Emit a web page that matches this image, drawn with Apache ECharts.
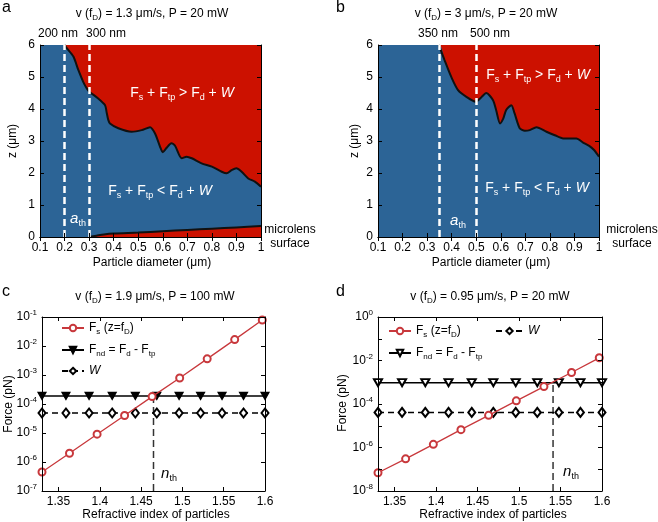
<!DOCTYPE html>
<html><head><meta charset="utf-8">
<script src="https://cdn.jsdelivr.net/npm/echarts@6/dist/echarts.min.js"></script>
<style>html,body{margin:0;padding:0;background:#fff}#c{width:658px;height:522px}</style>
</head><body><div id="c"></div>
<script>
// ---------- data ----------
// panel a : boundary F_s + F_tp = F_d + W (upper) and near-surface boundary (lower)
const diamA   = [0.1, 0.2, 0.209, 0.236, 0.256, 0.276, 0.29, 0.3, 0.337, 0.365, 0.371, 0.378, 0.385, 0.419, 0.473, 0.514, 0.548, 0.568, 0.589, 0.6, 0.615, 0.635, 0.65, 0.677, 0.697, 0.718, 0.758, 0.8, 0.84, 0.86, 0.88, 0.9, 0.921, 0.948, 0.975, 1.0];
const zUpperA = [6, 6, 5.9, 5.64, 5.22, 4.85, 4.65, 4.55, 4.33, 4.12, 3.91, 3.66, 3.55, 3.4, 3.29, 3.34, 3.43, 3.24, 2.82, 2.65, 2.78, 2.93, 2.85, 2.46, 2.51, 2.46, 2.3, 2.2, 2.04, 1.99, 2.09, 2.15, 2.04, 1.83, 1.73, 1.57];
const diamLowA = [0.3, 0.33, 0.36, 0.4, 0.5, 0.6, 0.7, 0.8, 0.9, 1.0];
const zLowerA  = [0, 0.04, 0.08, 0.11, 0.14, 0.18, 0.22, 0.26, 0.3, 0.34];
const thresholdsA = [0.2, 0.3];
// panel b
const diamB   = [0.1, 0.348, 0.371, 0.398, 0.426, 0.46, 0.497, 0.52, 0.541, 0.568, 0.581, 0.597, 0.61, 0.622, 0.643, 0.656, 0.677, 0.698, 0.718, 0.745, 0.786, 0.82, 0.854, 0.908, 0.935, 0.96, 0.98, 1.0];
const zUpperB = [6, 6, 5.53, 5.01, 4.59, 4.38, 4.23, 4.36, 4.5, 4.28, 3.97, 3.55, 3.7, 3.97, 4.12, 3.87, 3.4, 3.32, 3.34, 3.43, 3.29, 3.18, 3.08, 3.08, 2.95, 2.85, 2.72, 2.51];
const thresholdsB = [0.35, 0.5];
// panels c, d
const nFs   = [1.33, 1.3633, 1.3967, 1.43, 1.4633, 1.4967, 1.53, 1.5633, 1.5967];
const nFlat = [1.33, 1.359, 1.387, 1.415, 1.443, 1.469, 1.496, 1.522, 1.548, 1.574, 1.6];
const fsC  = [4.5e-7, 2.0e-6, 9.1e-6, 4.0e-5, 1.8e-4, 7.9e-4, 3.6e-3, 1.66e-2, 7.9e-2];
const fndC = [1.9e-4, 1.9e-4, 1.9e-4, 1.9e-4, 1.9e-4, 1.9e-4, 1.9e-4, 1.9e-4, 1.9e-4, 1.9e-4, 1.9e-4];
const wC   = [4.9e-5, 4.9e-5, 4.9e-5, 4.9e-5, 4.9e-5, 4.9e-5, 4.9e-5, 4.9e-5, 4.9e-5, 4.9e-5, 4.9e-5];
const nthC = 1.465;
const fsD  = [6.9e-8, 3.0e-7, 1.4e-6, 6.6e-6, 3.0e-5, 1.4e-4, 6.3e-4, 2.8e-3, 1.33e-2];
const fndD = [9.6e-4, 9.6e-4, 9.6e-4, 9.6e-4, 9.6e-4, 9.6e-4, 9.6e-4, 9.6e-4, 9.6e-4, 9.6e-4, 9.6e-4];
const wD   = [4.1e-5, 4.1e-5, 4.1e-5, 4.1e-5, 4.1e-5, 4.1e-5, 4.1e-5, 4.1e-5, 4.1e-5, 4.1e-5, 4.1e-5];
const nthD = 1.541;
const nTicks = [1.35, 1.4, 1.45, 1.5, 1.55, 1.6];

// ---------- style ----------
const FONT = "'Liberation Sans', Arial, Helvetica, sans-serif";
const RED_FILL = '#cc1100';
const BLUE_FILL = '#2c6496';
const LINE_RED = '#c8383c';
const zip = (xs, ys) => xs.map((x, i) => [x, ys[i]]);

function rich(size, color, sub) {
  return {
    t: {fontSize: size, lineHeight: size + 4, color, fontFamily: FONT, verticalAlign: 'middle'},
    i: {fontSize: size, lineHeight: size + 4, color, fontFamily: FONT, fontStyle: 'italic', verticalAlign: 'middle'},
    s: {fontSize: sub, lineHeight: sub, color, fontFamily: FONT, verticalAlign: 'bottom'},
    u: {fontSize: sub, lineHeight: sub, color, fontFamily: FONT, verticalAlign: 'top'}
  };
}
function txt(x, y, text, size, color, opts) {
  opts = opts || {};
  const el = {type: 'text', x, y, silent: true, z: 100,
    style: {text, fill: color, font: size + 'px ' + FONT, align: opts.align || 'center',
      verticalAlign: opts.va || 'middle', rich: rich(size, color, opts.sub || Math.round(size * 0.65))}};
  if (opts.rotation !== undefined) el.rotation = opts.rotation;
  return el;
}

const grids = [
  {left: 40, top: 45, width: 221, height: 192, show: true, backgroundColor: RED_FILL, borderWidth: 0},
  {left: 378, top: 45, width: 221, height: 192, show: true, backgroundColor: RED_FILL, borderWidth: 0},
  {left: 42, top: 317, width: 223, height: 174},
  {left: 378, top: 317, width: 224, height: 174}
];

const lineBlack = {show: true, lineStyle: {color: '#000', width: 1}};
const tickIn = {show: true, inside: true, length: 4, lineStyle: {color: '#000', width: 1}};
const lbl = {color: '#000', fontSize: 12, fontFamily: FONT, margin: 5};

const xAxes = [], yAxes = [];
function addAB(gi) {
  const base = {type: 'value', gridIndex: gi, min: 0.1, max: 1, interval: 0.1, splitLine: {show: false}, axisLine: lineBlack, axisTick: tickIn, z: 10};
  xAxes.push(Object.assign({}, base, {position: 'bottom', axisLabel: lbl}));
  xAxes.push(Object.assign({}, base, {position: 'top', axisLabel: {show: false}}));
  const yb = {type: 'value', gridIndex: gi, min: 0, max: 6, interval: 1, splitLine: {show: false}, axisLine: lineBlack, axisTick: tickIn, z: 10};
  yAxes.push(Object.assign({}, yb, {position: 'left', axisLabel: lbl}));
  yAxes.push(Object.assign({}, yb, {position: 'right', axisLabel: {show: false}}));
}
function addCD(gi, ymin, ymax, every) {
  const tk = Object.assign({}, tickIn, {customValues: nTicks});
  const base = {type: 'value', gridIndex: gi, min: 1.33, max: 1.6, splitLine: {show: false}, axisLine: lineBlack, axisTick: tk, z: 10};
  xAxes.push(Object.assign({}, base, {position: 'bottom', axisLabel: Object.assign({}, lbl, {customValues: nTicks})}));
  xAxes.push(Object.assign({}, base, {position: 'top', axisLabel: {show: false}}));
  const yb = {type: 'log', logBase: 10, gridIndex: gi, min: ymin, max: ymax, splitLine: {show: false}, axisLine: lineBlack, axisTick: tickIn, z: 10};
  yAxes.push(Object.assign({}, yb, {position: 'left', axisLabel: Object.assign({}, lbl, {
    formatter: v => { const e = Math.round(Math.log10(v)); return (e % every === 0) ? '{t|10}{u|' + e + '}' : ''; },
    rich: rich(12, '#000', 8)})}));
  yAxes.push(Object.assign({}, yb, {position: 'right', axisLabel: {show: false}}));
}
addAB(0); addAB(1); addCD(2, 1e-7, 1e-1, 1); addCD(3, 1e-8, 1, 2);

function thresholdLines(th) {
  return {silent: true, symbol: 'none', label: {show: false},
    lineStyle: {color: '#fff', type: [7, 4], width: 2.5}, data: th.map(v => ({xAxis: v}))};
}

// blue region below the boundary, then the boundary line itself (from where it leaves z = 6)
const series = [
  {name: 'areaA', type: 'line', xAxisIndex: 0, yAxisIndex: 0, data: zip(diamA, zUpperA), symbol: 'none', smooth: 0.25,
    lineStyle: {width: 0}, areaStyle: {color: BLUE_FILL, opacity: 1}, z: 2, silent: true},
  {name: 'bndA', type: 'line', xAxisIndex: 0, yAxisIndex: 0, data: zip(diamA.slice(1), zUpperA.slice(1)), symbol: 'none', smooth: 0.25,
    lineStyle: {color: '#111', width: 2}, z: 3, silent: true, markLine: thresholdLines(thresholdsA)},
  {name: 'lowA', type: 'line', xAxisIndex: 0, yAxisIndex: 0, data: zip(diamLowA, zLowerA), symbol: 'none', smooth: 0.25,
    lineStyle: {color: '#111', width: 2}, areaStyle: {color: RED_FILL, opacity: 1}, z: 3, silent: true},
  {name: 'areaB', type: 'line', xAxisIndex: 2, yAxisIndex: 2, data: zip(diamB, zUpperB), symbol: 'none', smooth: 0.25,
    lineStyle: {width: 0}, areaStyle: {color: BLUE_FILL, opacity: 1}, z: 2, silent: true},
  {name: 'bndB', type: 'line', xAxisIndex: 2, yAxisIndex: 2, data: zip(diamB.slice(1), zUpperB.slice(1)), symbol: 'none', smooth: 0.25,
    lineStyle: {color: '#111', width: 2}, z: 3, silent: true, markLine: thresholdLines(thresholdsB)}
];
function addForce(xi, tag, fs, fnd, w, nth, ymin, hollowTri) {
  series.push({name: 'nth_' + tag, type: 'line', xAxisIndex: xi, yAxisIndex: xi, data: [[nth, ymin], [nth, fnd[0]]], symbol: 'none',
    lineStyle: {color: '#333', type: [7, 4], width: 1.5}, z: 1, silent: true});
  series.push({name: 'W_' + tag, type: 'line', xAxisIndex: xi, yAxisIndex: xi, data: zip(nFlat, w), symbol: 'emptyDiamond', symbolSize: [7, 9],
    itemStyle: {color: '#000', borderColor: '#000', borderWidth: 1.2}, lineStyle: {color: '#000', type: [6, 4], width: 1.5}, z: 3});
  series.push({name: 'Fnd_' + tag, type: 'line', xAxisIndex: xi, yAxisIndex: xi, data: zip(nFlat, fnd),
    symbol: hollowTri ? 'emptyTriangle' : 'triangle', symbolRotate: 180, symbolSize: [8, 7],
    itemStyle: {color: '#000', borderColor: '#000', borderWidth: 1.2}, lineStyle: {color: '#000', width: 1.5}, z: 4});
  series.push({name: 'Fs_' + tag, type: 'line', xAxisIndex: xi, yAxisIndex: xi, data: zip(nFs, fs), symbol: 'emptyCircle', symbolSize: 7,
    itemStyle: {color: LINE_RED, borderColor: LINE_RED, borderWidth: 1.2}, lineStyle: {color: LINE_RED, width: 1.3}, z: 5});
}
addForce(4, 'c', fsC, fndC, wC, nthC, 1e-7, false);
addForce(6, 'd', fsD, fndD, wD, nthD, 1e-8, true);

const legendText = {
  Fs: '{t|F}{s|s}{t| (z=f}{s|D}{t|)}',
  Fnd: '{t|F}{s|nd}{t| = F}{s|d}{t| - F}{s|tp}',
  W: '{i|W}'
};
function leg(name, left, cy, w) {
  return {data: [name], left, top: cy - 8, padding: 0, itemWidth: w || 22, itemHeight: 8, itemGap: 5, selectedMode: false,
    formatter: n => legendText[n.split('_')[0]],
    textStyle: {color: '#000', fontSize: 12, fontFamily: FONT, rich: rich(12, '#000', 8)}};
}
const legends = [
  leg('Fs_c', 61, 330), leg('Fnd_c', 61, 352), leg('W_c', 61, 373),
  leg('Fs_d', 388, 333), leg('Fnd_d', 388, 355), leg('W_d', 495, 333, 27)
];

const title = (v, p) => '{t|v (f}{s|D}{t|) = ' + v + ' μm/s, P = ' + p + ' mW}';
const graphics = [
  txt(2, 8, 'a', 16, '#000', {align: 'left'}),
  txt(336, 8, 'b', 16, '#000', {align: 'left'}),
  txt(2, 292, 'c', 16, '#000', {align: 'left'}),
  txt(336, 292, 'd', 16, '#000', {align: 'left'}),
  txt(152, 14, title('1.3', '20'), 12, '#000', {sub: 8}),
  txt(486, 14, title('3', '20'), 12, '#000', {sub: 8}),
  txt(155, 297, title('1.9', '100'), 12, '#000', {sub: 8}),
  txt(490, 297, title('0.95', '20'), 12, '#000', {sub: 8}),
  txt(58, 34, '200 nm', 12, '#000'),
  txt(106, 34, '300 nm', 12, '#000'),
  txt(438, 34, '350 nm', 12, '#000'),
  txt(490, 34, '500 nm', 12, '#000'),
  txt(182, 93, '{t|F}{s|s}{t| + F}{s|tp}{t| > F}{s|d}{t| + }{i|W}', 14, '#fff', {sub: 9}),
  txt(160, 191, '{t|F}{s|s}{t| + F}{s|tp}{t| < F}{s|d}{t| + }{i|W}', 14, '#fff', {sub: 9}),
  txt(538, 75, '{t|F}{s|s}{t| + F}{s|tp}{t| > F}{s|d}{t| + }{i|W}', 14, '#fff', {sub: 9}),
  txt(537, 188, '{t|F}{s|s}{t| + F}{s|tp}{t| < F}{s|d}{t| + }{i|W}', 14, '#fff', {sub: 9}),
  txt(78, 219, '{i|a}{s|th}', 15, '#fff', {sub: 9}),
  txt(458, 221, '{i|a}{s|th}', 15, '#fff', {sub: 9}),
  txt(290, 230, 'microlens', 12, '#000'),
  txt(290, 244, 'surface', 12, '#000'),
  txt(632, 230, 'microlens', 12, '#000'),
  txt(632, 244, 'surface', 12, '#000'),
  txt(13, 141, 'z (μm)', 12, '#000', {rotation: Math.PI / 2}),
  txt(355, 141, 'z (μm)', 12, '#000', {rotation: Math.PI / 2}),
  txt(152, 263, 'Particle diameter (μm)', 12, '#000'),
  txt(491, 263, 'Particle diameter (μm)', 12, '#000'),
  txt(9, 404, 'Force (pN)', 12, '#000', {rotation: Math.PI / 2}),
  txt(343, 403, 'Force (pN)', 12, '#000', {rotation: Math.PI / 2}),
  txt(156, 515, 'Refractive index of particles', 12, '#000'),
  txt(493, 515, 'Refractive index of particles', 12, '#000'),
  txt(169, 474, '{i|n}{s|th}', 15, '#000', {sub: 9}),
  txt(571, 472, '{i|n}{s|th}', 15, '#000', {sub: 9})
];

const chart = echarts.init(document.getElementById('c'), null, {renderer: 'canvas'});
chart.setOption({
  animation: false,
  backgroundColor: '#fff',
  textStyle: {fontFamily: FONT},
  grid: grids,
  xAxis: xAxes,
  yAxis: yAxes,
  legend: legends,
  series: series,
  graphic: graphics
});
</script></body></html>
